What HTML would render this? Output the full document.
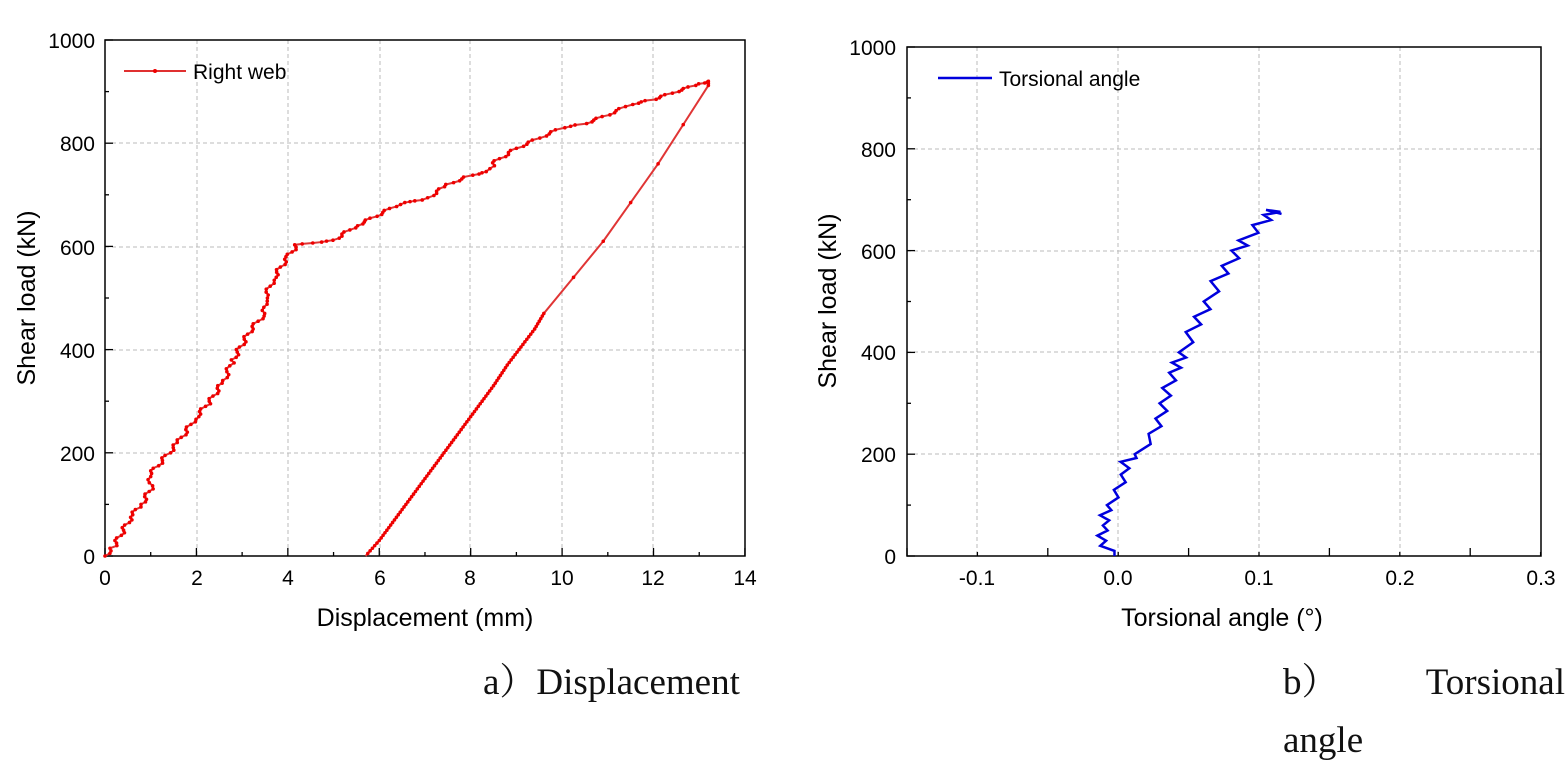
<!DOCTYPE html>
<html><head><meta charset="utf-8"><style>
body{margin:0;background:#fff;width:1565px;height:780px;overflow:hidden}
svg{position:absolute;left:0;top:0}
.t{font-family:"Liberation Sans",sans-serif;font-size:21px;fill:#000}
.c{font-family:"Liberation Serif","Noto Serif CJK SC",serif;font-size:37px;fill:#111}
</style></head><body>
<svg width="1565" height="780" id="s">
<g stroke="#bbb" stroke-dasharray="4,3" stroke-width="1">
<line x1="197" y1="40" x2="197" y2="556"/><line x1="288" y1="40" x2="288" y2="556"/><line x1="380" y1="40" x2="380" y2="556"/><line x1="470" y1="40" x2="470" y2="556"/><line x1="562" y1="40" x2="562" y2="556"/><line x1="653" y1="40" x2="653" y2="556"/>
<line x1="105" y1="143" x2="745" y2="143"/><line x1="105" y1="247" x2="745" y2="247"/><line x1="105" y1="350" x2="745" y2="350"/><line x1="105" y1="453" x2="745" y2="453"/>
<line x1="977" y1="47" x2="977" y2="556"/><line x1="1118" y1="47" x2="1118" y2="556"/><line x1="1259" y1="47" x2="1259" y2="556"/><line x1="1400" y1="47" x2="1400" y2="556"/>
<line x1="907" y1="149" x2="1541" y2="149"/><line x1="907" y1="251" x2="1541" y2="251"/><line x1="907" y1="352" x2="1541" y2="352"/><line x1="907" y1="454" x2="1541" y2="454"/>
</g>
<rect x="105" y="40" width="640" height="516" fill="none" stroke="#000" stroke-width="1.5"/>
<rect x="907" y="47" width="634" height="509" fill="none" stroke="#000" stroke-width="1.5"/>
<g id="ticks" stroke="#000" stroke-width="1.3"></g>
<g class="t" text-anchor="end">
<text x="95" y="48">1000</text><text x="95" y="151">800</text><text x="95" y="255">600</text><text x="95" y="358">400</text><text x="95" y="461">200</text><text x="95" y="564">0</text>
<text x="896" y="55">1000</text><text x="896" y="157">800</text><text x="896" y="259">600</text><text x="896" y="360">400</text><text x="896" y="462">200</text><text x="896" y="564">0</text>
</g>
<g class="t" text-anchor="middle">
<text x="105" y="585">0</text><text x="197" y="585">2</text><text x="288" y="585">4</text><text x="380" y="585">6</text><text x="470" y="585">8</text><text x="562" y="585">10</text><text x="653" y="585">12</text><text x="745" y="585">14</text>
<text x="977" y="585">-0.1</text><text x="1118" y="585">0.0</text><text x="1259" y="585">0.1</text><text x="1400" y="585">0.2</text><text x="1541" y="585">0.3</text>
<text x="425" y="626" font-size="25">Displacement (mm)</text>
<text x="1222" y="626" font-size="25">Torsional angle (°)</text>
<text transform="translate(35,298) rotate(-90)" font-size="25">Shear load (kN)</text>
<text transform="translate(836,301) rotate(-90)" font-size="25">Shear load (kN)</text>
</g>
<line x1="124" y1="71" x2="186" y2="71" stroke="#e03030" stroke-width="2"/><circle cx="155" cy="71" r="2" fill="#e00"/>
<text class="t" x="193" y="79" font-size="22">Right web</text>
<line x1="938" y1="78" x2="992" y2="78" stroke="#0000dd" stroke-width="2.5"/>
<text class="t" x="999" y="86" font-size="22">Torsional angle</text>
<g id="series"></g>
<text class="c" x="483" y="694">a）Displacement</text>
<text class="c" x="1283" y="694">b）</text>
<text class="c" x="1565" y="694" text-anchor="end">Torsional</text>
<text class="c" x="1283" y="752">angle</text>
</svg>
<script>
var NS="http://www.w3.org/2000/svg";
function el(p,t,a){var e=document.createElementNS(NS,t);for(var k in a)e.setAttribute(k,a[k]);p.appendChild(e);return e;}
var tk=document.getElementById("ticks");
for(var i=0;i<=14;i++){var x=105+i*45.71;el(tk,"line",{x1:x,y1:556,x2:x,y2:i%2?552:548});}
for(var i=0;i<=10;i++){var y=556-i*51.6;el(tk,"line",{x1:105,y1:y,x2:i%2?109:113,y2:y});}
for(var i=0;i<=9;i++){var x=907+i*70.4;el(tk,"line",{x1:x,y1:556,x2:x,y2:i%2?552:548});}
for(var i=0;i<=10;i++){var y=556-i*50.9;el(tk,"line",{x1:907,y1:y,x2:i%2?911:915,y2:y});}
var g=document.getElementById("series");
function L(d){return [105+d[0]*45.71,556-d[1]*0.516];}
var load=[[0,0],[0.2,20],[0.4,50],[0.6,80],[0.8,100],[1,130],[1,160],[1.3,190],[1.6,220],[2,270],[2.3,300],[2.6,340],[2.8,380],[3,410],[3.2,440],[3.5,470],[3.5,500],[3.7,540],[4,580],[4.2,603],[5,612],[5.5,640],[6,662],[6.5,685],[7,690],[7.5,720],[8,738],[8.4,745],[8.5,762],[9,790],[9.5,810],[10,830],[10.5,838],[11,855],[11.5,875],[12,885],[12.5,900],[13,915],[13.2,920],[13.2,912],[12.1,760],[10.9,610],[9.6,470],[9.4,440],[8.8,370],[8.5,330],[8,270],[7.5,210],[7,150],[6.5,90],[6,30],[5.7,0]];
var pts=[],dots=[];
for(var i=0;i<load.length-1;i++){var a=load[i],b=load[i+1];var n=(i>=38&&i<=41)?2:Math.max(3,Math.round(Math.abs(b[1]-a[1])/6+Math.abs(b[0]-a[0])*4));
for(var j=0;j<n;j++){var f=j/n,x=a[0]+(b[0]-a[0])*f,y=a[1]+(b[1]-a[1])*f;var w=(i<38)?Math.sin((i*n+j)*1.3)*0.06:0;var p=L([x+w,y]);pts.push(p.join(","));dots.push(p);}}
pts.push(L(load[load.length-1]).join(","));
el(g,"polyline",{points:pts.join(" "),fill:"none",stroke:"#e03535","stroke-width":2});
dots.forEach(function(p){el(g,"circle",{cx:p[0],cy:p[1],r:1.8,fill:"#e00"});});
function R(d){return [1118+d[0]*1410,556-d[1]*0.509];}
var tor=[[0,0],[-0.01,20],[-0.012,40],[-0.008,60],[-0.01,80],[-0.005,100],[0,130],[0.005,160],[0.005,185],[0.015,200],[0.025,240],[0.03,270],[0.033,300],[0.035,330],[0.04,360],[0.042,380],[0.047,400],[0.052,440],[0.058,470],[0.065,500],[0.07,540],[0.078,570],[0.085,600],[0.09,620],[0.1,650],[0.108,670],[0.113,682]];
var tp=[];
for(var i=0;i<tor.length-1;i++){var a=tor[i],b=tor[i+1];for(var j=0;j<2;j++){var f=j/2;var w=(j%2?1:-1)*(0.0025+a[1]/300000);tp.push(R([a[0]+(b[0]-a[0])*f+w,a[1]+(b[1]-a[1])*f]).join(","));}}
tp.push(R([0.105,680]).join(","));tp.push(R([0.116,672]).join(","));
el(g,"polyline",{points:tp.join(" "),fill:"none",stroke:"#0000dd","stroke-width":2.5});
</script>
</body></html>
